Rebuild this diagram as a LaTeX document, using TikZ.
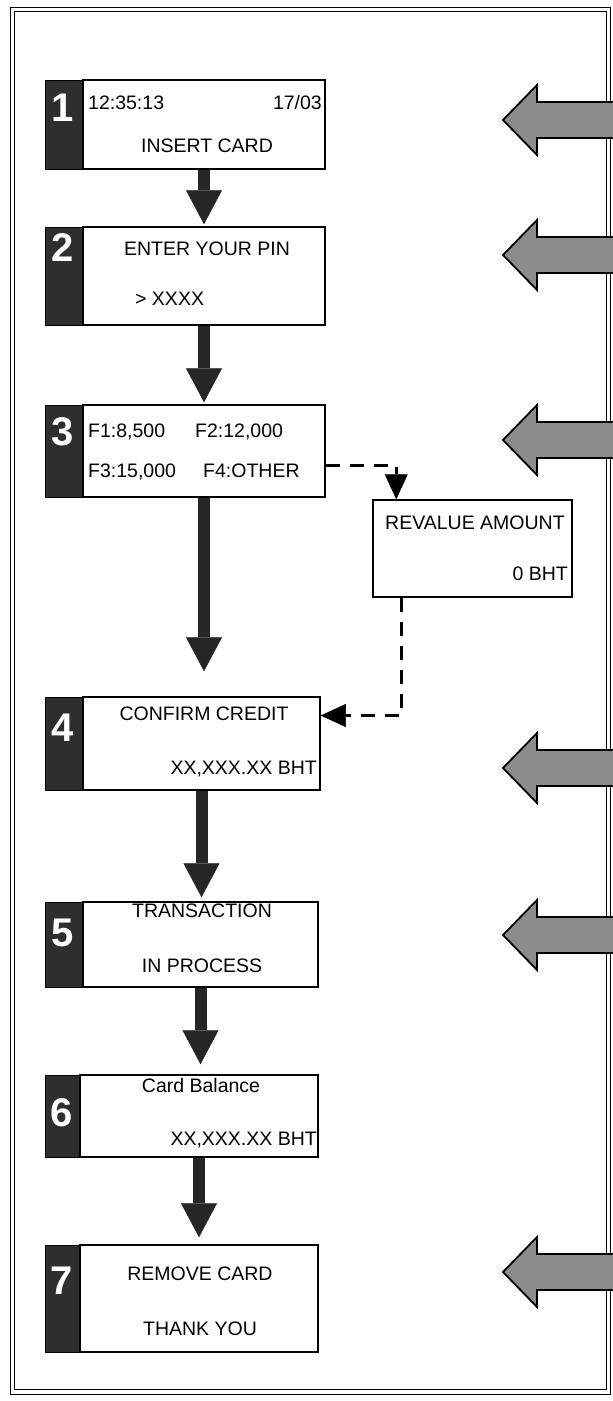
\documentclass[tikz,border=0pt]{standalone}
\usepackage{fontspec}
\setmainfont{Liberation Sans}
\usetikzlibrary{arrows.meta, positioning, calc, fit}

\tikzset{
  screen/.style={draw, line width=1.5pt, inner sep=0pt, fill=white},
  tab/.style={fill=black!82, draw=black, inner sep=0pt},
  digit/.style={text=white, font=\bfseries\fontsize{40}{40}\selectfont, inner sep=0pt},
  lcd/.style={font=\fontsize{19.5}{23}\selectfont, inner sep=0pt, text height=14pt, text depth=0pt},
  flow/.style={draw=black!85, line width=12pt, -{Triangle[width=36pt, length=34pt, line width=0.5pt]}},
  dashflow/.style={line width=3pt, dash pattern=on 14pt off 10pt, -{Triangle[width=23pt, length=25pt, line width=0.5pt]}},
  sidearrow/.style={draw=black, line width=1.8pt, fill=black!45, line join=miter},
  frameline/.style={draw=black, line width=1pt},
}

\begin{document}
\begin{tikzpicture}[x=1pt, y=-1pt]
\useasboundingbox (0,0) rectangle (613,1401);
% double frame
\draw[frameline] (10,7) rectangle (610,1394);
\draw[frameline] (14,11) rectangle (606,1389);

% screen 1
\node[tab, fit={(45,80) (83,169)}] (n1) {};
\node[screen, fit={(83,80) (325,169)}] (b1) {};
\node[digit] (d1) at (63,108) {1};
\node[lcd, anchor=west] (t1a) at (88,102) {12:35:13};
\node[lcd, anchor=east] (t1b) at (322,102) {17/03};
\node[lcd] (t1c) at (207,145) {INSERT CARD};

% screen 2
\node[tab, fit={(45,227) (83,325)}] (n2) {};
\node[screen, fit={(83,227) (325,325)}] (b2) {};
\node[digit] (d2) at (63,248) {2};
\node[lcd] (t2a) at (207,248) {ENTER YOUR PIN};
\node[lcd, anchor=west] (t2b) at (135,298) {> XXXX};

% screen 3
\node[tab, fit={(45,405) (83,497)}] (n3) {};
\node[screen, fit={(83,405) (325,497)}] (b3) {};
\node[digit] (d3) at (63,432) {3};
\node[lcd, anchor=west] (t3a) at (88,430) {F1:8,500};
\node[lcd, anchor=west] (t3b) at (195,430) {F2:12,000};
\node[lcd, anchor=west] (t3c) at (88,470) {F3:15,000};
\node[lcd, anchor=west] (t3d) at (203,470) {F4:OTHER};

% revalue screen
\node[screen, fit={(373,500) (572,597)}] (rv) {};
\node[lcd, anchor=west] (trva) at (385,522) {REVALUE AMOUNT};
\node[lcd, anchor=east] (trvb) at (568,573) {0 BHT};

% screen 4
\node[tab, fit={(45,697) (83,790)}] (n4) {};
\node[screen, fit={(83,697) (320,790)}] (b4) {};
\node[digit] (d4) at (63,728) {4};
\node[lcd] (t4a) at (204,713) {CONFIRM CREDIT};
\node[lcd, anchor=east] (t4b) at (317,767) {XX,XXX.XX BHT};

% screen 5
\node[tab, fit={(45,902) (83,987)}] (n5) {};
\node[screen, fit={(83,902) (318,987)}] (b5) {};
\node[digit] (d5) at (63,933) {5};
\node[lcd] (t5a) at (202,910) {TRANSACTION};
\node[lcd] (t5b) at (202,965) {IN PROCESS};

% screen 6
\node[tab, fit={(45,1075) (80,1157)}] (n6) {};
\node[screen, fit={(80,1075) (318,1157)}] (b6) {};
\node[digit] (d6) at (62,1113) {6};
\node[lcd] (t6a) at (201,1085) {Card Balance};
\node[lcd, anchor=east] (t6b) at (317,1138) {XX,XXX.XX BHT};

% screen 7
\node[tab, fit={(45,1245) (80,1352)}] (n7) {};
\node[screen, fit={(80,1245) (318,1352)}] (b7) {};
\node[digit] (d7) at (62,1281) {7};
\node[lcd] (t7a) at (200,1273) {REMOVE CARD};
\node[lcd] (t7b) at (200,1328) {THANK YOU};

% main flow
\draw[flow, shorten >=2pt] (b1.south) -- (b1.south |- b2.north);
\draw[flow, shorten >=2pt] (b2.south) -- (b2.south |- b3.north);
\draw[flow, shorten >=25pt] (b3.south) -- (b3.south |- b4.north);
\draw[flow, shorten >=4pt] (b4.south) -- (b4.south |- b5.north);
\draw[flow, shorten >=10pt] (b5.south) -- (b5.south |- b6.north);
\draw[flow, shorten >=7pt] (b6.south) -- (b6.south |- b7.north);

% other amount
\coordinate (o3) at ($(b3.east)+(0,14)$);
\coordinate (rvin) at ($(rv.north west)+(24,0)$);
\coordinate (rvout) at ($(rv.south west)+(29,0)$);
\coordinate (i4) at ($(b4.east)+(0,-28)$);
\draw[dashflow] (o3) -| (rvin);
\draw[dashflow] (rvout) |- (i4);

% side arrows
\foreach \y in {120,255,440,768,935,1272}
  \draw[sidearrow] (503,\y) -- ++(34,-35) -- ++(0,17) -- ++(85,0) -- ++(0,36) -- ++(-85,0) -- ++(0,17) -- cycle;
\end{tikzpicture}
\end{document}
